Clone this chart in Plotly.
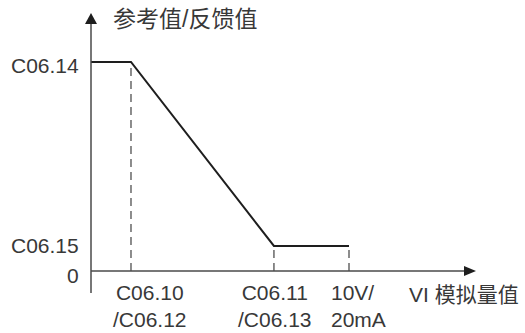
import plotly.graph_objects as go

# ---------------- data ----------------
x_points = [0, 1.55, 7.09, 10]          # 0, C06.10, C06.11, 10V
y_points = [100, 100, 12, 12]           # C06.14, C06.14, C06.15, C06.15
y_tick_vals = [100, 12, 0]
y_tick_text = ["C06.14", "C06.15", "0"]
x_tick_vals = [1.55, 7.09, 10]
x_tick_text = ["C06.10<br>/C06.12", "C06.11<br>/C06.13", "10V/<br>20mA"]
y_title = "参考值/反馈值"
x_title = "VI 模拟量值"

# ---------------- layout constants ----------------
W, H = 525, 333
OX, OY = 91, 271          # origin in pixels
SX, SY = 25.8, 2.09       # pixels per data unit
x_range = [-OX / SX, (W - OX) / SX]
y_range = [-(H - OY) / SY, OY / SY]
x_axis_end = (476 - OX) / SX
y_axis_top = (OY - 13) / SY
y_axis_bottom = -(293 - OY) / SY

LINE_C = "#1e1e1e"
AXIS_C = "#4a4a4a"
DASH_C = "#808080"
TEXT_C = "#383838"
FONT = "Liberation Sans, Arial, Noto Sans CJK SC, sans-serif"

fig = go.Figure()

fig.add_trace(go.Scatter(
    x=x_points, y=y_points, mode="lines",
    line=dict(color=LINE_C, width=2), hoverinfo="skip", showlegend=False,
))

shapes = []
# dashed guides
for i in range(1, len(x_points)):
    shapes.append(dict(type="line", xref="x", yref="y",
                       x0=x_points[i], x1=x_points[i], y0=0, y1=y_points[i],
                       line=dict(color=DASH_C, width=1.8, dash="8px,5px"),
                       layer="below"))
# axes
shapes.append(dict(type="line", xref="x", yref="y", x0=0, x1=0,
                   y0=y_axis_bottom, y1=y_axis_top - 5 / SY,
                   line=dict(color=AXIS_C, width=1.5)))
shapes.append(dict(type="line", xref="x", yref="y", x0=0, x1=x_axis_end - 5 / SX,
                   y0=0, y1=0, line=dict(color=AXIS_C, width=1.5)))
# arrow heads
shapes.append(dict(type="path", xref="x", yref="y",
                   xsizemode="pixel", ysizemode="pixel",
                   xanchor=0, yanchor=y_axis_top,
                   path="M -6,-11 L 6,-11 L 0,0 Z",
                   fillcolor=LINE_C, line=dict(width=0)))
shapes.append(dict(type="path", xref="x", yref="y",
                   xsizemode="pixel", ysizemode="pixel",
                   xanchor=x_axis_end, yanchor=0,
                   path="M -12,-5 L -12,5 L 0,0 Z",
                   fillcolor=LINE_C, line=dict(width=0)))

annotations = []
y_shifts = [-3, 0, -4]
for v, t, ys in zip(y_tick_vals, y_tick_text, y_shifts):
    annotations.append(dict(x=0, y=v, xref="x", yref="y", text=t, showarrow=False,
                            xanchor="right", yanchor="middle", xshift=-10, yshift=ys,
                            font=dict(family=FONT, size=21, color=TEXT_C)))
x_shifts = [19, 1, -20]
x_anchors = ["center", "center", "left"]
for v, t, xs, xa in zip(x_tick_vals, x_tick_text, x_shifts, x_anchors):
    annotations.append(dict(x=v, y=0, xref="x", yref="y", text=t, showarrow=False,
                            xanchor=xa, align=xa if xa != "center" else "center",
                            yanchor="middle", xshift=xs, yshift=-35,
                            font=dict(family=FONT, size=21, color=TEXT_C)))
annotations.append(dict(x=0, y=y_axis_top, xref="x", yref="y", text=y_title,
                        showarrow=False, xanchor="left", yanchor="middle",
                        xshift=20, yshift=-6,
                        font=dict(family=FONT, size=23, color=TEXT_C)))
annotations.append(dict(x=x_axis_end, y=0, xref="x", yref="y", text=x_title,
                        showarrow=False, xanchor="left", yanchor="middle",
                        xshift=-69, yshift=-23,
                        font=dict(family=FONT, size=21, color=TEXT_C)))

fig.update_layout(
    width=W, height=H, autosize=False,
    margin=dict(l=0, r=0, t=0, b=0),
    paper_bgcolor="white", plot_bgcolor="white",
    xaxis=dict(range=x_range, visible=False, fixedrange=True),
    yaxis=dict(range=y_range, visible=False, fixedrange=True),
    shapes=shapes, annotations=annotations, showlegend=False,
)

fig.write_html("out.html",
               config={"displayModeBar": False},
               post_script="document.body.style.margin='0';document.body.style.padding='0';document.body.style.overflow='hidden';")
